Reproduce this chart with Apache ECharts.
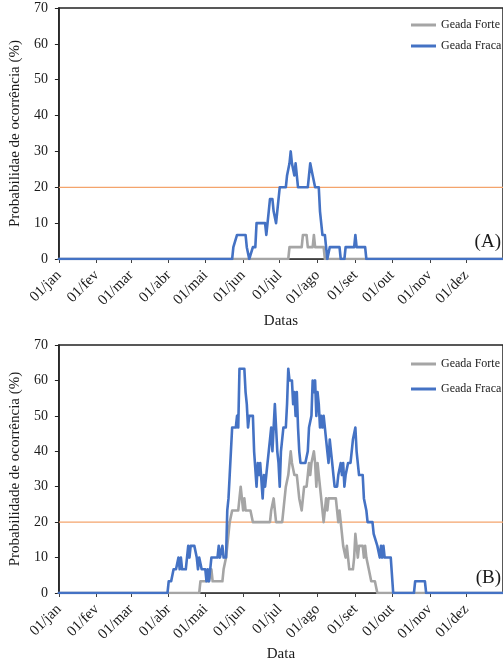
<!DOCTYPE html>
<html>
<head>
<meta charset="utf-8">
<script src="https://cdn.jsdelivr.net/npm/echarts@6/dist/echarts.min.js"></script>
<style>
html,body{margin:0;padding:0;background:#fff;}
#chart{width:503px;height:665px;}
</style>
</head>
<body>
<div id="chart"></div>
<script>
// Day index (0 = 01/jan) for the first day of each month, and the tick labels
const monthStarts = [0, 31, 59, 90, 120, 151, 181, 212, 243, 273, 304, 334];
const monthLabels = ['01/jan','01/fev','01/mar','01/abr','01/mai','01/jun','01/jul','01/ago','01/set','01/out','01/nov','01/dez'];
const seriesNames = ['Geada Forte', 'Geada Fraca'];
const threshold = 20;
const yearDays = [0, 364];

// Panel (A): [day index, probability %]
const forteA = [[0,0],[188,0],[189,3.3],[199,3.3],[200,6.7],[203,6.7],[204,3.3],[208,3.3],[209,6.7],[210,3.3],[217,3.3],[218,0],[364,0]];
const fracaA = [[0,0],[142,0],[143,3.3],[146,6.7],[153,6.7],[154,3.3],[155,3.3],[156,0],[157,0],[159,3.3],[161,3.3],[162,10],[169,10],[170,6.7],[172,13.3],[173,16.7],[175,16.7],[176,13.3],[177,13.3],[178,10],[179,10],[181,20],[186,20],[187,23.3],[189,26.7],[190,30],[191,26.7],[192,26.7],[193,23.3],[194,26.7],[195,23.3],[196,20],[204,20],[205,23.3],[206,26.7],[207,26.7],[208,23.3],[209,23.3],[210,20],[213,20],[214,13.3],[215,10],[216,6.7],[218,6.7],[219,3.3],[220,0],[221,0],[222,3.3],[230,3.3],[231,0],[234,0],[235,3.3],[242,3.3],[243,6.7],[244,3.3],[251,3.3],[252,0],[364,0]];

// Panel (B): [day index, probability %]
const forteB = [[0,0],[115,0],[116,3.3],[123,3.3],[125,6.7],[126,3.3],[134,3.3],[135,6.7],[137,10],[138,13.3],[140,20],[142,23.3],[147,23.3],[148,26.7],[149,30],[150,26.7],[151,23.3],[152,26.7],[153,23.3],[157,23.3],[159,20],[173,20],[174,23.3],[176,26.7],[177,23.3],[178,20],[183,20],[184,23.3],[185,26.7],[186,30],[188,33.3],[190,40],[191,36.7],[193,33.3],[195,33.3],[196,30],[197,26.7],[199,23.3],[200,26.7],[201,30],[203,30],[204,33.3],[205,36.7],[206,33.3],[207,36.7],[209,40],[210,36.7],[211,30],[212,36.7],[213,33.3],[215,26.7],[217,20],[219,26.7],[220,23.3],[221,26.7],[227,26.7],[228,23.3],[229,20],[230,23.3],[231,20],[232,16.7],[233,13.3],[235,10],[236,13.3],[237,10],[238,6.7],[241,6.7],[242,10],[243,16.7],[244,13.3],[245,10],[246,13.3],[249,13.3],[250,10],[251,13.3],[252,10],[254,6.7],[256,3.3],[259,3.3],[261,0],[364,0]];
const fracaB = [[0,0],[89,0],[90,3.3],[92,3.3],[94,6.7],[96,6.7],[98,10],[99,6.7],[100,10],[101,6.7],[104,6.7],[105,10],[106,13.3],[107,10],[108,13.3],[111,13.3],[113,10],[114,6.7],[115,10],[117,6.7],[120,6.7],[121,3.3],[122,6.7],[123,3.3],[125,10],[130,10],[131,13.3],[132,10],[134,13.3],[135,10],[137,10],[138,23.3],[139,26.7],[140,33.3],[142,46.7],[145,46.7],[146,50],[147,46.7],[148,63.3],[152,63.3],[153,56.7],[154,53.3],[155,46.7],[156,50],[159,50],[160,40],[161,40],[162,30],[163,36.7],[164,33.3],[165,36.7],[167,26.7],[168,33.3],[169,30],[171,36.7],[172,40],[173,43.3],[174,46.7],[175,40],[177,53.3],[178,46.7],[179,40],[180,36.7],[181,30],[182,40],[184,46.7],[186,46.7],[187,53.3],[188,63.3],[189,60],[191,60],[192,53.3],[193,56.7],[194,50],[195,56.7],[196,46.7],[197,40],[198,36.7],[202,36.7],[204,40],[205,46.7],[207,50],[208,60],[209,56.7],[210,60],[211,50],[212,56.7],[213,53.3],[214,46.7],[215,50],[216,46.7],[217,50],[218,46.7],[219,43.3],[220,40],[221,36.7],[222,43.3],[223,40],[224,36.7],[225,33.3],[226,30],[228,30],[229,33.3],[231,36.7],[232,33.3],[233,36.7],[234,30],[235,33.3],[237,36.7],[239,36.7],[240,40],[241,43.3],[243,46.7],[244,40],[246,33.3],[249,33.3],[250,26.7],[252,23.3],[253,20],[257,20],[258,16.7],[261,13.3],[262,13.3],[263,10],[264,13.3],[265,10],[266,13.3],[267,10],[272,10],[274,0],[291,0],[292,3.3],[300,3.3],[301,0],[364,0]];

const FONT = 'Liberation Serif, Times New Roman, serif';
const TXT = '#1a1a1a';
const BLUE = '#4472C4';
const GRAY = '#A5A5A5';
const ORANGE = '#F4A46C';

function xAxisCfg(gridIndex, name, gap) {
  return {
    type: 'value', gridIndex: gridIndex, min: 0, max: 364,
    name: name, nameLocation: 'middle', nameGap: gap,
    nameTextStyle: {fontFamily: FONT, fontSize: 15, color: TXT},
    axisLine: {show: true, lineStyle: {color: '#404040', width: 1}},
    axisTick: {show: true, customValues: monthStarts, length: 4, lineStyle: {color: '#404040'}},
    axisLabel: {customValues: monthStarts, rotate: 45, margin: 14, fontFamily: FONT, fontSize: 15, color: TXT,
      formatter: function (v) { const i = monthStarts.indexOf(v); return i >= 0 ? monthLabels[i] : ''; }},
    splitLine: {show: false}
  };
}
function yAxisCfg(gridIndex, name, gap) {
  return {
    type: 'value', gridIndex: gridIndex, min: 0, max: 70, interval: 10,
    name: name, nameLocation: 'middle', nameGap: gap,
    nameTextStyle: {fontFamily: FONT, fontSize: 15, color: TXT},
    axisLine: {show: true, lineStyle: {color: '#222', width: 1.5}},
    axisTick: {show: true, length: 4, lineStyle: {color: '#222'}},
    axisLabel: {margin: 11, fontFamily: FONT, fontSize: 14, color: TXT},
    splitLine: {show: false}
  };
}
function lineSeries(name, data, color, idx) {
  return {
    name: name, type: 'line', xAxisIndex: idx, yAxisIndex: idx, data: data,
    showSymbol: false, symbol: 'none', animation: false,
    lineStyle: {color: color, width: 2.6, join: 'round', cap: 'round'},
    itemStyle: {color: color}, z: color === BLUE ? 4 : 3
  };
}
function thresholdSeries(idx) {
  return {
    name: 'limiar', type: 'line', xAxisIndex: idx, yAxisIndex: idx,
    data: yearDays.map(function (d) { return [d, threshold]; }),
    silent: true, animation: false, z: 2, showSymbol: false, symbol: 'none',
    emphasis: {disabled: true},
    lineStyle: {color: ORANGE, width: 1.3, type: 'solid', opacity: 1},
    itemStyle: {color: ORANGE}
  };
}
function legendCfg(top, gap) {
  return {
    data: seriesNames, orient: 'vertical', left: 411, top: top, padding: 0, itemWidth: 25, itemHeight: 3, itemGap: gap,
    icon: 'rect', selectedMode: false,
    textStyle: {fontFamily: FONT, fontSize: 12, color: TXT, lineHeight: 16}
  };
}

const chart = echarts.init(document.getElementById('chart'), null, {renderer: 'canvas'});
chart.setOption({
  backgroundColor: '#fff',
  animation: false,
  grid: [
    {left: 52, top: 8, width: 459, height: 251, show: true, borderColor: '#222', borderWidth: 1.5, backgroundColor: 'transparent'},
    {left: 55, top: 345, width: 455, height: 248, show: true, borderColor: '#222', borderWidth: 1.5, backgroundColor: 'transparent'}
  ],
  xAxis: [xAxisCfg(0, 'Datas', 55), xAxisCfg(1, 'Data', 54)],
  yAxis: [yAxisCfg(0, 'Probabilidae de ocorrência (%)', 31), yAxisCfg(1, 'Probabilidade de ocorrência (%)', 32)],
  legend: [legendCfg(17, 5), legendCfg(356, 9)],
  series: [
    thresholdSeries(0),
    lineSeries(seriesNames[0], forteA, GRAY, 0),
    lineSeries(seriesNames[1], fracaA, BLUE, 0),
    thresholdSeries(1),
    lineSeries(seriesNames[0], forteB, GRAY, 1),
    lineSeries(seriesNames[1], fracaB, BLUE, 1)
  ],
  graphic: [
    {type: 'text', style: {text: '(A)', x: 501, y: 242, align: 'right', verticalAlign: 'middle', font: '19px ' + FONT, fill: TXT}},
    {type: 'text', style: {text: '(B)', x: 501, y: 578, align: 'right', verticalAlign: 'middle', font: '19px ' + FONT, fill: TXT}}
  ]
});
</script>
</body>
</html>
